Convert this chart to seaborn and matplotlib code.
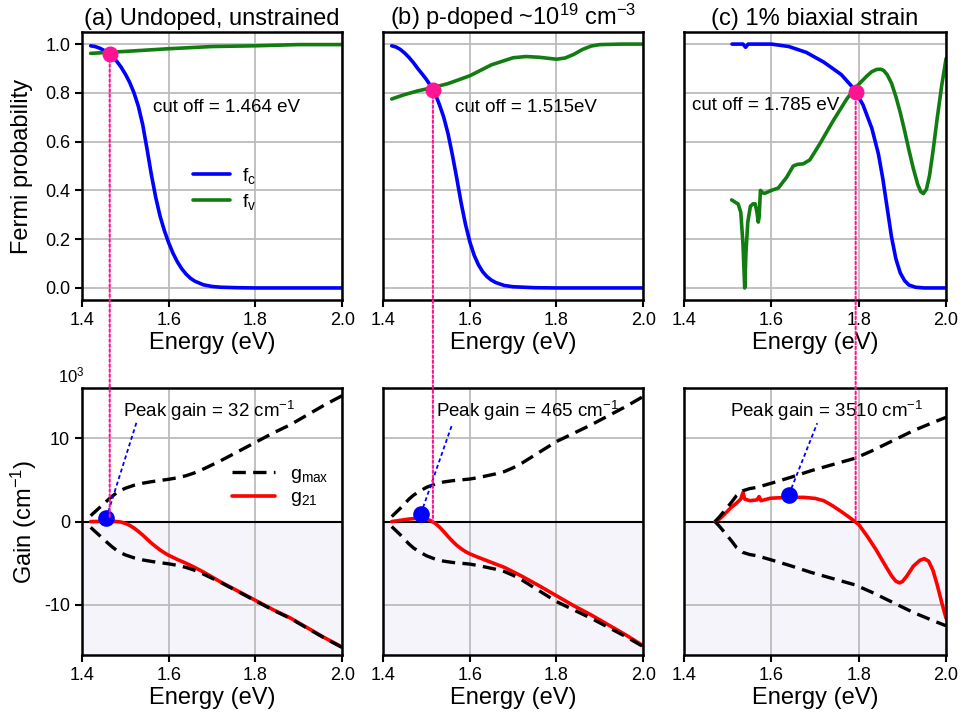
import matplotlib
matplotlib.use("Agg")
import matplotlib.pyplot as plt
import seaborn as sns
from matplotlib.patches import ConnectionPatch

# ---- data (energies in eV, gain in 10^3 cm^-1) ----
titles = ["(a) Undoped, unstrained", "(b) p-doped ~10$^{19}$ cm$^{-3}$", "(c) 1% biaxial strain"]

# (a) undoped
E_fc_a = [1.42, 1.43, 1.44, 1.45, 1.46, 1.47, 1.48, 1.49, 1.50, 1.51, 1.52, 1.53, 1.54, 1.55,
          1.56, 1.57, 1.58, 1.59, 1.60, 1.61, 1.62, 1.63, 1.64, 1.65, 1.66, 1.68, 1.70, 1.72,
          1.76, 1.80, 1.90, 2.00]
fc_a = [0.993, 0.99, 0.984, 0.975, 0.963, 0.948, 0.93, 0.906, 0.877, 0.843, 0.80, 0.745, 0.67, 0.57,
        0.465, 0.372, 0.295, 0.235, 0.185, 0.142, 0.107, 0.079, 0.057, 0.04, 0.028, 0.013, 0.006, 0.003,
        0.001, 0.0, 0.0, 0.0]
E_fv_a = [1.42, 1.50, 1.60, 1.70, 1.80, 1.90, 2.00]
fv_a = [0.962, 0.97, 0.981, 0.99, 0.993, 0.998, 0.998]

# (b) p-doped
E_fc_b = [1.42, 1.43, 1.44, 1.45, 1.46, 1.47, 1.48, 1.49, 1.50, 1.51, 1.52, 1.53, 1.54, 1.55,
          1.56, 1.57, 1.58, 1.59, 1.60, 1.61, 1.62, 1.63, 1.64, 1.65, 1.66, 1.68, 1.70, 1.75,
          1.80, 2.00]
fc_b = [0.993, 0.988, 0.978, 0.963, 0.945, 0.924, 0.90, 0.878, 0.855, 0.828, 0.797, 0.752, 0.70, 0.632,
        0.545, 0.45, 0.35, 0.262, 0.19, 0.135, 0.095, 0.066, 0.046, 0.032, 0.022, 0.01, 0.005, 0.001,
        0.0, 0.0]
E_fv_b = [1.42, 1.45, 1.48, 1.515, 1.55, 1.60, 1.65, 1.70, 1.73, 1.76, 1.80, 1.82, 1.84, 1.86,
          1.88, 1.90, 1.95, 2.00]
fv_b = [0.775, 0.793, 0.808, 0.822, 0.838, 0.870, 0.915, 0.944, 0.949, 0.946, 0.938, 0.943, 0.958, 0.978,
        0.992, 0.998, 1.0, 1.0]

# (c) 1% biaxial strain
E_fc_c = [1.51, 1.535, 1.541, 1.547, 1.60, 1.64, 1.68, 1.72, 1.76, 1.79, 1.81, 1.83, 1.845, 1.855,
          1.865, 1.875, 1.885, 1.895, 1.905, 1.915, 1.93, 1.95, 2.00]
fc_c = [1.0, 1.0, 0.987, 1.0, 1.0, 0.99, 0.966, 0.926, 0.875, 0.815, 0.75, 0.655, 0.55, 0.45,
        0.33, 0.21, 0.12, 0.062, 0.03, 0.012, 0.003, 0.0, 0.0]
E_fv_c = [1.509, 1.524, 1.530, 1.535, 1.539, 1.542, 1.546, 1.552, 1.558, 1.563, 1.567, 1.570, 1.572,
          1.575, 1.580, 1.585, 1.60, 1.616, 1.635, 1.650, 1.660, 1.673, 1.688, 1.711, 1.742, 1.773,
          1.794, 1.818, 1.830, 1.841, 1.850, 1.857, 1.865, 1.875, 1.885, 1.895, 1.905, 1.915, 1.925,
          1.935, 1.942, 1.948, 1.955, 1.962, 1.970, 1.980, 1.990, 2.00]
fv_c = [0.361, 0.344, 0.31, 0.18, 0.0, 0.15, 0.27, 0.335, 0.345, 0.345, 0.31, 0.27, 0.29,
        0.40, 0.39, 0.388, 0.40, 0.41, 0.454, 0.50, 0.507, 0.509, 0.525, 0.591, 0.687, 0.776,
        0.824, 0.868, 0.887, 0.896, 0.897, 0.892, 0.875, 0.84, 0.785, 0.72, 0.645, 0.565, 0.49,
        0.425, 0.395, 0.387, 0.405, 0.46, 0.56, 0.70, 0.83, 0.941]

# gain, panel (a)
E_gmax_a = [1.42, 1.44, 1.46, 1.47, 1.48, 1.49, 1.50, 1.52, 1.54, 1.56, 1.58, 1.60, 1.62, 1.64,
            1.66, 1.68, 1.70, 1.72, 1.76, 1.80, 1.84, 1.88, 1.92, 1.96, 2.00]
gmax_a = [0.7, 1.65, 2.6, 3.05, 3.45, 3.75, 4.0, 4.35, 4.6, 4.78, 4.93, 5.07, 5.25, 5.5,
          5.85, 6.3, 6.8, 7.3, 8.4, 9.5, 10.6, 11.6, 12.8, 14.0, 15.1]
E_g21_a = [1.42, 1.44, 1.46, 1.48, 1.49, 1.50, 1.51, 1.52, 1.53, 1.54, 1.55, 1.56, 1.57, 1.58,
           1.59, 1.60, 1.62, 1.64, 1.66, 1.68, 1.70, 1.72, 1.76, 1.80, 1.84, 1.88, 1.92, 1.96, 2.00]
g21_a = [0.0, 0.02, 0.03, 0.0, -0.06, -0.22, -0.45, -0.78, -1.18, -1.62, -2.1, -2.58, -3.0, -3.4,
         -3.75, -4.05, -4.55, -5.0, -5.5, -6.05, -6.65, -7.25, -8.35, -9.45, -10.55, -11.55, -12.75,
         -13.95, -15.05]

# gain, panel (b)
E_gmax_b = [1.42, 1.44, 1.46, 1.47, 1.48, 1.49, 1.50, 1.52, 1.54, 1.56, 1.58, 1.60, 1.62, 1.64,
            1.66, 1.68, 1.70, 1.72, 1.76, 1.80, 1.84, 1.88, 1.92, 1.96, 2.00]
gmax_b = [0.6, 1.6, 2.7, 3.15, 3.5, 3.8, 4.1, 4.5, 4.75, 4.9, 5.0, 5.1, 5.28, 5.5,
          5.72, 6.0, 6.45, 7.0, 8.3, 9.6, 10.6, 11.6, 12.7, 13.8, 15.0]
E_g21_b = [1.42, 1.44, 1.46, 1.48, 1.49, 1.50, 1.51, 1.52, 1.53, 1.54, 1.55, 1.56, 1.57, 1.58,
           1.59, 1.60, 1.62, 1.64, 1.66, 1.68, 1.72, 1.76, 1.80, 1.84, 1.88, 1.92, 1.96, 2.00]
g21_b = [0.0, 0.15, 0.3, 0.4, 0.4, 0.32, 0.1, -0.2, -0.65, -1.2, -1.8, -2.35, -2.85, -3.25,
         -3.6, -3.87, -4.3, -4.7, -5.1, -5.5, -6.55, -7.7, -8.9, -10.1, -11.2, -12.4, -13.6, -14.9]

# gain, panel (c)
E_gmax_c = [1.471, 1.48, 1.496, 1.51, 1.52, 1.535, 1.55, 1.567, 1.60, 1.644, 1.691, 1.738, 1.792,
            1.831, 1.878, 1.925, 1.971, 2.00]
gmax_c = [0.0, 0.5, 1.5, 2.4, 3.1, 3.7, 3.95, 4.1, 4.6, 5.3, 6.1, 6.8, 7.6,
          8.5, 9.7, 10.9, 11.9, 12.5]
E_g21_c = [1.471, 1.481, 1.493, 1.508, 1.52, 1.530, 1.535, 1.539, 1.551, 1.567, 1.572, 1.576,
           1.598, 1.637, 1.675, 1.70, 1.72, 1.74, 1.76, 1.78, 1.80, 1.82, 1.84, 1.86, 1.875,
           1.885, 1.893, 1.90, 1.91, 1.925, 1.94, 1.95, 1.96, 1.97, 1.98, 1.99, 2.00]
g21_c = [0.0, 0.3, 0.9, 1.7, 2.2, 2.7, 3.5, 2.7, 2.5, 2.6, 3.0, 2.5,
         2.8, 2.9, 2.9, 2.78, 2.5, 1.9, 1.2, 0.45, -0.35, -1.8, -3.4, -5.2, -6.5,
         -7.15, -7.35, -7.2, -6.55, -5.35, -4.65, -4.45, -4.75, -5.85, -7.65, -9.7, -11.6]

# cut-off points (E, f), pink line bottom end in gain axes, peak gain marker and label
cut_E = [1.464, 1.515, 1.793]
cut_f = [0.958, 0.81, 0.805]
cut_end = [0.5, 0.0, 0.0]
cut_labels = ["cut off = 1.464 eV", "cut off = 1.515eV", "cut off = 1.785 eV"]
cut_text_xy = [(1.563, 0.74), (1.566, 0.74), (1.418, 0.75)]
peak_E = [1.456, 1.487, 1.640]
peak_g = [0.4, 0.9, 3.2]
peak_tip = [(1.527, 12.1), (1.559, 11.6), (1.705, 11.8)]
peak_labels = ["Peak gain = 32 cm$^{-1}$", "Peak gain = 465 cm$^{-1}$", "Peak gain = 3510 cm$^{-1}$"]
peak_text_xy = [(1.494, 13.3), (1.522, 13.3), (1.505, 13.3)]

BLUE = "#0000ff"
GREEN = "#117d11"
RED = "#ff0000"
PINK = "#ff1493"
SHADE = "#f4f4fa"

sns.set_theme(style="whitegrid", rc={
    "axes.edgecolor": "black",
    "axes.linewidth": 1.8,
    "grid.color": "#bcbcbc",
    "grid.linewidth": 1.3,
    "xtick.bottom": True,
    "ytick.left": True,
    "xtick.direction": "out",
    "ytick.direction": "out",
    "xtick.major.size": 5,
    "ytick.major.size": 5,
    "xtick.major.width": 1.5,
    "ytick.major.width": 1.5,
    "xtick.color": "black",
    "ytick.color": "black",
    "xtick.labelsize": 13,
    "ytick.labelsize": 13,
    "axes.labelcolor": "black",
    "text.color": "black",
})
plt.rcParams["font.family"] = ["Liberation Sans", "DejaVu Sans"]
plt.rcParams["mathtext.fontset"] = "custom"
plt.rcParams["mathtext.rm"] = "Liberation Sans"
plt.rcParams["mathtext.it"] = "Liberation Sans:italic"
plt.rcParams["axes.unicode_minus"] = False

fig = plt.figure(figsize=(9.6, 7.25), dpi=100)
lefts = [0.0854, 0.399, 0.7125]
widths = [0.271, 0.271, 0.273]
top_axes = [fig.add_axes([l, 0.586, w, 0.370]) for l, w in zip(lefts, widths)]
bot_axes = [fig.add_axes([l, 0.0966, w, 0.368]) for l, w in zip(lefts, widths)]

fermi = [(E_fc_a, fc_a, E_fv_a, fv_a), (E_fc_b, fc_b, E_fv_b, fv_b), (E_fc_c, fc_c, E_fv_c, fv_c)]
gain = [(E_gmax_a, gmax_a, E_g21_a, g21_a), (E_gmax_b, gmax_b, E_g21_b, g21_b),
        (E_gmax_c, gmax_c, E_g21_c, g21_c)]

for i in range(3):
    ax = top_axes[i]
    Ec, fc, Ev, fv = fermi[i]
    sns.lineplot(x=Ec, y=fc, ax=ax, color=BLUE, linewidth=2.6, label="f$_{\\mathrm{c}}$", sort=False)
    sns.lineplot(x=Ev, y=fv, ax=ax, color=GREEN, linewidth=2.6, label="f$_{\\mathrm{v}}$", sort=False)
    ax.scatter([cut_E[i]], [cut_f[i]], s=110, color=PINK, zorder=5)
    ax.text(cut_text_xy[i][0], cut_text_xy[i][1], cut_labels[i], fontsize=13.5, va="center")
    ax.set_xlim(1.4, 2.0)
    ax.set_ylim(-0.05, 1.05)
    ax.set_xticks([1.4, 1.6, 1.8, 2.0])
    ax.set_xticklabels(["1.4", "1.6", "1.8", "2.0"])
    ax.set_yticks([0.0, 0.2, 0.4, 0.6, 0.8, 1.0])
    ax.set_yticklabels(["0.0", "0.2", "0.4", "0.6", "0.8", "1.0"])
    ax.set_xlabel("Energy (eV)", fontsize=17, labelpad=2)
    ax.set_title(titles[i], fontsize=17, pad=5)
    if i == 0:
        ax.set_ylabel("Fermi probability", fontsize=17, labelpad=9)
        ax.legend(loc="center left", bbox_to_anchor=(0.36, 0.415), frameon=False, fontsize=14,
                  handlelength=1.9, handletextpad=0.6, labelspacing=0.3)
    else:
        ax.set_ylabel("")
        ax.tick_params(axis="y", left=False, labelleft=False)
        ax.get_legend().remove()

    ax = bot_axes[i]
    Em, gm, Eg, g21 = gain[i]
    ax.axhspan(-16, 0, color=SHADE, zorder=0)
    sns.lineplot(x=Eg, y=g21, ax=ax, color=RED, linewidth=2.6, label="g$_{\\mathrm{21}}$", sort=False)
    sns.lineplot(x=Em, y=gm, ax=ax, color="black", linewidth=2.4, linestyle=(0, (4, 2.2)),
                 label="g$_{\\mathrm{max}}$", sort=False)
    sns.lineplot(x=Em, y=[-v for v in gm], ax=ax, color="black", linewidth=2.4,
                 linestyle=(0, (4, 2.2)), sort=False)
    ax.axhline(0, color="black", linewidth=1.5, zorder=1.5)
    ax.plot([peak_E[i], peak_tip[i][0]], [peak_g[i], peak_tip[i][1]], color=BLUE,
            linewidth=1.3, linestyle=(0, (2.2, 1.6)), zorder=4)
    ax.scatter([peak_E[i]], [peak_g[i]], s=120, color=BLUE, zorder=5)
    ax.text(peak_text_xy[i][0], peak_text_xy[i][1], peak_labels[i], fontsize=13.5, va="center")
    ax.set_xlim(1.4, 2.0)
    ax.set_ylim(-16, 16)
    ax.set_xticks([1.4, 1.6, 1.8, 2.0])
    ax.set_xticklabels(["1.4", "1.6", "1.8", "2.0"])
    ax.set_yticks([-10, 0, 10])
    ax.set_yticklabels(["-10", "0", "10"])
    ax.set_xlabel("Energy (eV)", fontsize=17, labelpad=2)
    if i == 0:
        ax.set_ylabel("Gain (cm$^{-1}$)", fontsize=17, labelpad=4)
        ax.text(-0.04, 1.01, "10$^3$", transform=ax.transAxes, fontsize=12, ha="center", va="bottom")
        h, l = ax.get_legend_handles_labels()
        ax.legend([h[1], h[0]], [l[1], l[0]], loc="center left", bbox_to_anchor=(0.51, 0.63),
                  frameon=False, fontsize=14, handlelength=2.2, handletextpad=0.8, labelspacing=0.2)
    else:
        ax.set_ylabel("")
        ax.tick_params(axis="y", left=False, labelleft=False)
        ax.get_legend().remove()

    # pink dotted guide from the cut-off point down into the gain panel
    con = ConnectionPatch(xyA=(cut_E[i], cut_f[i]), coordsA=top_axes[i].transData,
                          xyB=(cut_E[i], cut_end[i]), coordsB=bot_axes[i].transData,
                          color=PINK, linewidth=1.5, linestyle=(0, (1.2, 1.2)), zorder=3)
    fig.add_artist(con)

fig.savefig("out.png", dpi=100)
